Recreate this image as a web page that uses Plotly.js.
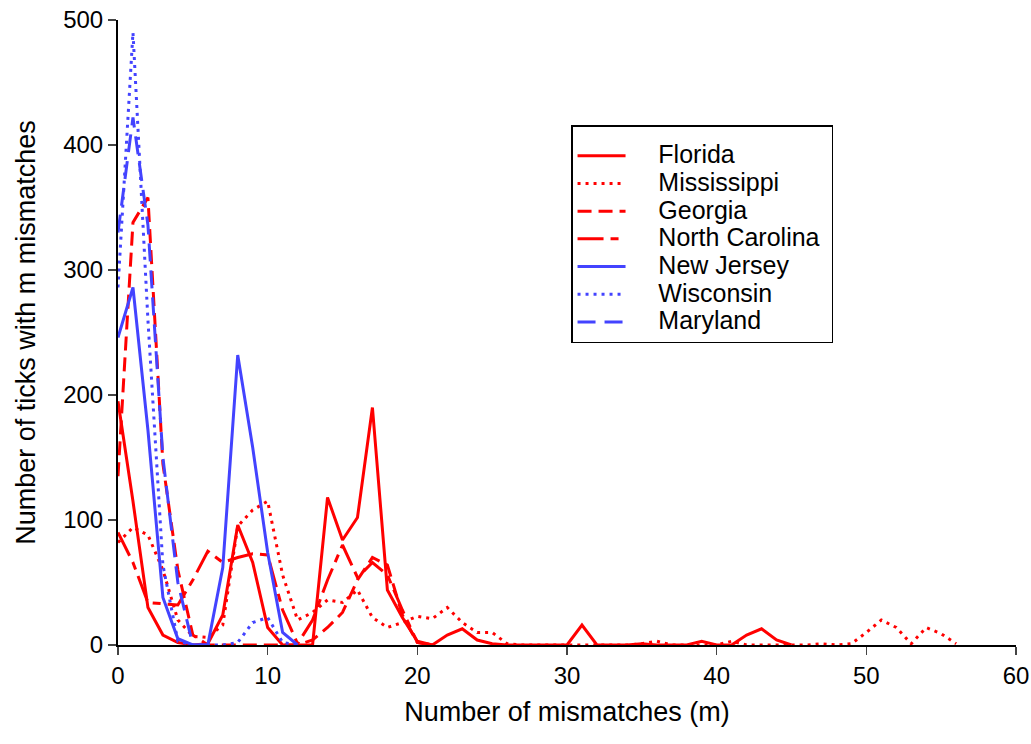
<!DOCTYPE html>
<html>
<head>
<meta charset="utf-8">
<script src="https://cdn.plot.ly/plotly-3.0.1.min.js"></script>
<style>html,body{margin:0;padding:0;background:#fff;}#chart{width:1031px;height:744px;}</style>
</head>
<body>
<div id="chart"></div>
<script>
// Number of ticks with m mismatches, per state (m = 0,1,2,...)
const florida = [195,115,30,8,2,0,1,24,96,66,14,0,0,0,118,84,102,190,44,22,3,0,8,13,4,1,0,0,0,0,0,16,0,0,0,1,0,0,0,3,0,0,8,13,4,0];
const mississippi = [82,94,88,60,20,7,6,16,95,108,115,56,20,26,36,34,44,22,14,18,23,21,30,18,10,10,1,0,0,0,0,0,0,0,0,1,3,0,0,0,0,3,0,0,0,0,0,1,0,1,10,20,14,1,14,9,1];
const georgia = [135,338,358,145,60,8,0,0,0,0,0,0,0,4,14,26,52,70,64,24,2,0];
const northCarolina = [90,66,34,33,32,52,75,66,70,73,72,28,1,20,52,80,54,66,56,28,2,0];
const newJersey = [246,286,172,38,5,0,0,62,232,158,74,10,0];
const wisconsin = [286,490,260,64,3,0,0,0,2,18,22,2,0];
const maryland = [330,422,336,150,50,0,0];

const seriesNames = ["Florida","Mississippi","Georgia","North Carolina","New Jersey","Wisconsin","Maryland"];
const seriesValues = [florida, mississippi, georgia, northCarolina, newJersey, wisconsin, maryland];
const seriesColors = ["#ff0000","#ff0000","#ff0000","#ff0000","#4343ff","#4343ff","#4343ff"];
const seriesDash = ["solid","3px,5px","14px,7px","26px,7px,8px,7px","solid","3px,5px","18px,9px"];

const xTickVals = [0,10,20,30,40,50,60];
const yTickVals = [0,100,200,300,400,500];

const NB = "\u00A0";
const traces = seriesValues.map((vals, i) => ({
  type: "scatter",
  mode: "lines",
  name: '<span style="font-size:25px">' + NB.repeat(4) + seriesNames[i] + NB + '</span>',
  x: vals.map((_, m) => m),
  y: vals,
  line: {color: seriesColors[i], width: 3, dash: seriesDash[i]}
}));

const layout = {
  width: 1031, height: 744,
  margin: {l: 118, r: 15, t: 20, b: 99},
  paper_bgcolor: "#fff", plot_bgcolor: "#fff",
  font: {family: "Liberation Sans, Arial, sans-serif", color: "#000"},
  showlegend: true,
  legend: {
    x: 0.5045, y: 0.832, xanchor: "left", yanchor: "top",
    bordercolor: "#000", borderwidth: 1.5, bgcolor: "#fff",
    font: {size: 19, color: "#000"},
    title: {text: NB, font: {size: 8}},
    itemwidth: 48
  },
  xaxis: {
    range: [0, 60], tickvals: xTickVals, ticks: "outside", ticklen: 8, tickwidth: 1.5,
    showline: true, linecolor: "#000", linewidth: 2, showgrid: false, zeroline: false,
    tickfont: {size: 24}, title: {text: "Number of mismatches (m)", font: {size: 27}, standoff: 14}
  },
  yaxis: {
    range: [0, 500], tickvals: yTickVals, ticks: "outside", ticklen: 8, tickwidth: 1.5,
    showline: true, linecolor: "#000", linewidth: 2, showgrid: false, zeroline: false,
    tickfont: {size: 24}, title: {text: "Number of ticks with m mismatches", font: {size: 27}, standoff: 20}
  }
};

Plotly.newPlot("chart", traces, layout, {displayModeBar: false, staticPlot: true});
</script>
</body>
</html>
